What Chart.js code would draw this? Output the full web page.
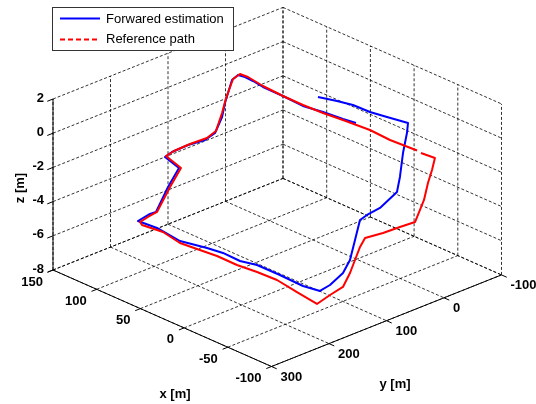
<!DOCTYPE html>
<html>
<head>
<meta charset="utf-8">
<script src="https://cdn.jsdelivr.net/npm/chart.js"></script>
<style>
  html, body { margin: 0; padding: 0; background: #fff; }
  canvas { display: block; }
</style>
</head>
<body>
<canvas id="pathChart" width="536" height="404"></canvas>
<script>
// axis ticks
const xTicks = [150, 100, 50, 0, -50, -100];
const yTicks = [300, 200, 100, 0, -100];
const zTicks = [-8, -6, -4, -2, 0, 2];

// forwared estimation (blue), metres
const estX = [48.6, 32.8, 18.7, 2.3, -11.5, -28.7, -30.1, -29.6, -30.3, -39.8, -52.4, -54.9, -55.6, -54.5, -53.4, -58.0, -67.3, -70.0, -54.0, -26.5, -0.5, 14.2, 34.4, 49.8, 71.7, 99.6, 117.1, 117.8, 114.9, 114.5, 113.4, 126.7, 127.4, 125.9, 121.1, 122.9, 122.3, 125.8, 130.0, 128.9, 122.4, 112.6, 99.0, 75.9, 51.5, 32.4, 12.0, -0.5];
const estY = [-6.7, -15.8, -22.1, -26.7, -35.4, -45.8, -41.8, -35.7, -29.3, -9.7, 39.0, 65.3, 78.6, 85.6, 92.7, 111.8, 148.6, 170.1, 175.3, 173.6, 173.9, 181.2, 180.1, 184.4, 198.2, 195.8, 202.3, 180.3, 174.2, 153.9, 136.5, 140.7, 127.4, 101.8, 79.5, 59.4, 48.1, 37.7, 19.1, 10.3, 8.0, 9.0, 12.3, 12.7, 15.1, 9.2, 5.4, 1.8];
const estZ = [0.3, 0.3, 0.3, 0.2, 0.1, 0, -0.5, -1.6, -2.9, -3.3, -3.3, -3.3, -3.4, -4.5, -5.6, -6, -6, -6, -6, -6, -6, -6, -6, -6, -5.9, -5.8, -5.7, -5.6, -5.5, -4.3, -3.4, -3.0, -2.9, -2.8, -2.7, -2.6, -1.8, -1.2, -0.2, 0, 0, 0, 0, 0, 0, 0, 0, 0];

// reference path (red), metres
const refX = [-76.6, -91.0, -91.8, -91.0, -91.0, -90.8, -95.2, -91.4, -88.1, -82.9, -80.7, -79.4, -78.1, -77.0, -78.6, -81.4, -54.3, -29.4, -7.7, 10.4, 33.5, 51.6, 69.0, 90.8, 109.4, 114.6, 112.5, 109.7, 113.4, 112.4, 127.5, 127.7, 126.2, 122.9, 125.2, 125.4, 127.3, 130.8, 129.2, 120.8, 100.4, 75.9, 52.8, 31.0, 10.7, -17.6, -42.1, -71.1];
const refY = [4.5, 2.1, 8.4, 14.2, 21.1, 27.8, 43.1, 63.6, 88.0, 111.3, 116.7, 123.5, 130.2, 140.8, 165.7, 192.7, 186.2, 183.1, 184.8, 192.2, 191.8, 199.2, 202.3, 198.6, 206.9, 202.4, 191.9, 180.4, 152.1, 134.6, 137.7, 123.5, 97.9, 73.5, 54.3, 43.4, 33.5, 16.1, 6.4, 5.3, 10.3, 12.7, 13.0, 11.3, 7.5, 3.5, 5.9, 2.9];
const refZ = [0, 0, -0.6, -1.3, -2.2, -2.7, -3.1, -3.2, -3.3, -3.4, -3.9, -4.6, -5.3, -6, -6.1, -6.2, -6.2, -6.1, -6.1, -6, -6, -5.9, -5.9, -5.8, -5.7, -5.7, -5.5, -5.3, -4.3, -3.4, -3.0, -2.9, -2.8, -2.7, -2.6, -1.7, -1.0, -0.2, 0, 0, 0, 0, 0, 0, 0, 0, 0, 0];

const xLim = [-100, 150], yLim = [-100, 300], zLim = [-8, 2];

// simple 3d view: where the corner (x=150, y=300, z=-8) lands and how far one unit moves
const view = {
  origin: [53, 270],
  ex: [-0.874, -0.386],
  ey: [-0.575, 0.229],
  ez: [0, -17.1]
};
function proj(x, y, z) {
  const dx = x - xLim[1], dy = y - yLim[1], dz = z - zLim[0];
  return {
    x: view.origin[0] + dx * view.ex[0] + dy * view.ey[0] + dz * view.ez[0],
    y: view.origin[1] + dx * view.ex[1] + dy * view.ey[1] + dz * view.ez[1]
  };
}

const estPts = estX.map((x, i) => proj(x, estY[i], estZ[i]));
const refPts = refX.map((x, i) => proj(x, refY[i], refZ[i]));

// box, grid and ticks
const gridPts = [], axisPts = [], tickPts = [];
function seg(arr, a, b) { arr.push(proj(...a), proj(...b), { x: null, y: null }); }

const [x0, x1] = [xLim[1], xLim[0]];   // 150 -> -100
const [y0, y1] = [yLim[1], yLim[0]];   // 300 -> -100
const [z0, z1] = zLim;
// floor
xTicks.forEach(x => seg(gridPts, [x, y0, z0], [x, y1, z0]));
yTicks.forEach(y => seg(gridPts, [x0, y, z0], [x1, y, z0]));
// back wall x = 150
yTicks.forEach(y => seg(gridPts, [x0, y, z0], [x0, y, z1]));
zTicks.forEach(z => seg(gridPts, [x0, y0, z], [x0, y1, z]));
// back wall y = -100
xTicks.forEach(x => seg(gridPts, [x, y1, z0], [x, y1, z1]));
zTicks.forEach(z => seg(gridPts, [x0, y1, z], [x1, y1, z]));
// axes
seg(axisPts, [x0, y0, z0], [x1, y0, z0]);
seg(axisPts, [x1, y0, z0], [x1, y1, z0]);
seg(axisPts, [x0, y0, z0], [x0, y0, z1]);
xTicks.forEach(x => seg(tickPts, [x, y0, z0], [x, y0 + 9, z0]));
yTicks.forEach(y => seg(tickPts, [x1, y, z0], [x1 - 6, y, z0]));
zTicks.forEach(z => seg(tickPts, [x0, y0, z], [x0, y0 + 10, z]));

const font = '"Liberation Sans", Arial, Helvetica, sans-serif';

const textPlugin = {
  id: 'text3d',
  afterDatasetsDraw(chart) {
    const ctx = chart.ctx;
    const sx = chart.scales.x, sy = chart.scales.y;
    const at = p => [sx.getPixelForValue(p.x), sy.getPixelForValue(p.y)];
    ctx.save();
    ctx.fillStyle = '#000';
    ctx.font = 'bold 13px ' + font;
    ctx.textBaseline = 'middle';

    ctx.textAlign = 'right';
    zTicks.forEach(z => { const [px, py] = at(proj(x0, y0, z)); ctx.fillText(String(z), px - 9, py - 1); });
    xTicks.forEach(v => { const [px, py] = at(proj(v, y0, z0)); ctx.fillText(String(v), px - 10, py + 12); });
    ctx.textAlign = 'left';
    yTicks.forEach(v => { const [px, py] = at(proj(x1, v, z0)); ctx.fillText(String(v), px + 9, py + 11); });

    // axis titles
    ctx.textAlign = 'center';
    ctx.fillText('x [m]', 175, 394);
    ctx.fillText('y [m]', 395, 384);
    ctx.save();
    ctx.translate(20, 188);
    ctx.rotate(-Math.PI / 2);
    ctx.fillText('z [m]', 0, 0);
    ctx.restore();

    // legend
    const est = chart.data.datasets[1], ref = chart.data.datasets[0];
    ctx.fillStyle = '#fff';
    ctx.fillRect(52, 7, 181, 43);
    ctx.strokeStyle = '#333';
    ctx.lineWidth = 1;
    ctx.strokeRect(52.5, 7.5, 181, 43);
    ctx.lineWidth = 2;
    ctx.strokeStyle = est.borderColor;
    ctx.beginPath(); ctx.moveTo(60, 18.5); ctx.lineTo(100, 18.5); ctx.stroke();
    ctx.strokeStyle = ref.borderColor;
    ctx.setLineDash([5, 3]);
    ctx.beginPath(); ctx.moveTo(60, 39.5); ctx.lineTo(100, 39.5); ctx.stroke();
    ctx.setLineDash([]);
    ctx.fillStyle = '#000';
    ctx.font = '13px ' + font;
    ctx.textAlign = 'left';
    ctx.fillText(est.label, 106, 19);
    ctx.fillText(ref.label, 106, 39);
    ctx.restore();
  }
};

new Chart(document.getElementById('pathChart'), {
  type: 'line',
  data: {
    datasets: [
      { label: 'Reference path', data: refPts, borderColor: '#ff0000', borderWidth: 2, order: 0 },
      { label: 'Forwared estimation', data: estPts, borderColor: '#0000ff', borderWidth: 2, order: 1 },
      { label: 'ticks', data: tickPts, borderColor: '#000', borderWidth: 1, order: 2 },
      { label: 'axes', data: axisPts, borderColor: '#000', borderWidth: 1, order: 3 },
      { label: 'grid', data: gridPts, borderColor: 'rgba(0,0,0,0.8)', borderWidth: 1, borderDash: [3, 2], order: 4 }
    ]
  },
  options: {
    responsive: false,
    animation: false,
    devicePixelRatio: 1,
    spanGaps: false,
    layout: { padding: 0 },
    elements: {
      point: { radius: 0, hoverRadius: 0 },
      line: { tension: 0, fill: false, borderJoinStyle: 'round' }
    },
    scales: {
      x: { type: 'linear', min: 0, max: 536, display: false },
      y: { type: 'linear', min: 0, max: 404, reverse: true, display: false }
    },
    plugins: { legend: { display: false }, tooltip: { enabled: false } }
  },
  plugins: [textPlugin]
});
</script>
</body>
</html>
